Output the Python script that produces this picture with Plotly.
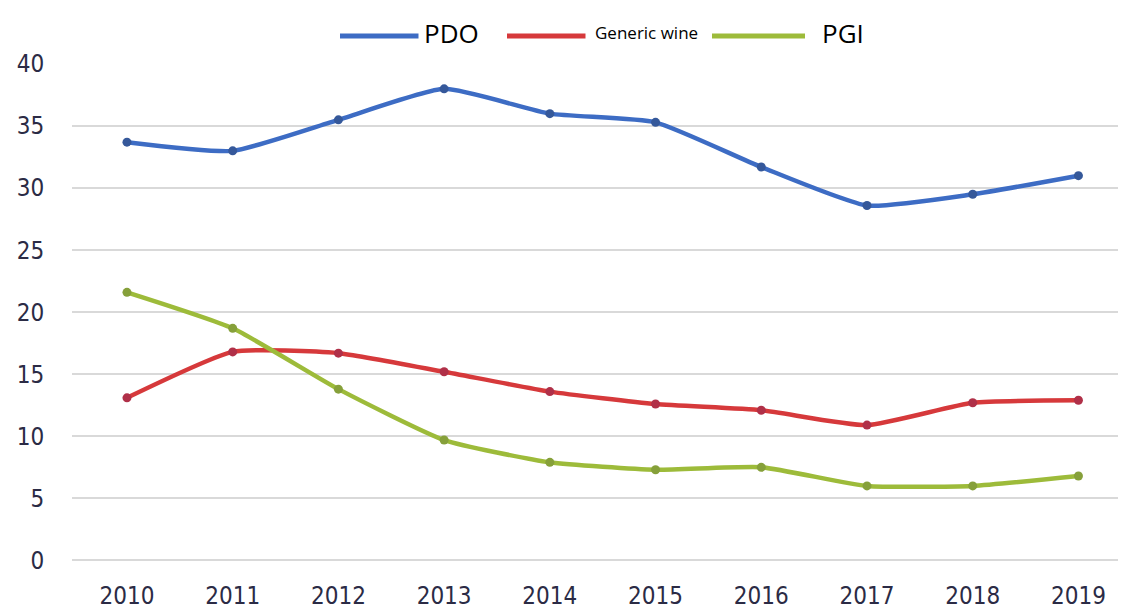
import plotly.graph_objects as go

years = [2010, 2011, 2012, 2013, 2014, 2015, 2016, 2017, 2018, 2019]
pdo = [33.7, 33.0, 35.5, 38.0, 36.0, 35.3, 31.7, 28.6, 29.5, 31.0]
generic_wine = [13.1, 16.8, 16.7, 15.2, 13.6, 12.6, 12.1, 10.9, 12.7, 12.9]
pgi = [21.6, 18.7, 13.8, 9.7, 7.9, 7.3, 7.5, 6.0, 6.0, 6.8]
y_ticks = [0, 5, 10, 15, 20, 25, 30, 35, 40]

series = [
    ("PDO", pdo, "#3d6cc4", "#35589a"),
    ("Generic wine", generic_wine, "#d6393b", "#b03048"),
    ("PGI", pgi, "#9dbb3a", "#86a03a"),
]

fig = go.Figure()
for name, vals, col, mcol in series:
    fig.add_trace(go.Scatter(
        x=years, y=vals, name=name, mode="lines+markers",
        line=dict(color=col, width=4.5, shape="spline", smoothing=0.5),
        marker=dict(color=mcol, size=9, symbol="circle"),
        showlegend=False,
    ))

tick_font = dict(family="DejaVu Sans Condensed, Liberation Sans Narrow, sans-serif",
                 size=24, color="#2b2b45")

# page body has an 8px margin; figure is sized to fit the window
fig.update_layout(
    width=1118, height=607,
    margin=dict(l=64, r=0, t=56, b=54),
    paper_bgcolor="white", plot_bgcolor="white",
    xaxis=dict(range=[2009.48, 2019.45], tickmode="array", tickvals=years,
               ticktext=[str(y) for y in years], showgrid=False, zeroline=False,
               showline=False, tickfont=tick_font, ticks="outside", ticklen=13,
               tickcolor="rgba(0,0,0,0)", automargin=False),
    yaxis=dict(range=[-0.05, 40], tickmode="array", tickvals=y_ticks,
               showgrid=True, gridcolor="#d9d9d9", gridwidth=2, zeroline=True,
               zerolinecolor="#d9d9d9", zerolinewidth=2,
               showline=False, tickfont=tick_font, ticks="outside", ticklen=22,
               tickcolor="rgba(0,0,0,0)", automargin=False),
)

# custom legend (positions in page pixels converted to paper coords)
legend_items = [
    ("PDO", "#3d6cc4", 340, 420, 451, 26, 5),
    ("Generic wine", "#d6393b", 507, 587, 646, 17, 9),
    ("PGI", "#9dbb3a", 712, 805, 843, 26, 5),
]
for name, col, x0, x1, tx, fs, pad in legend_items:
    fig.add_shape(type="line", xref="paper", yref="paper",
                  x0=(x0 - 72) / 1054, x1=(x1 - 72) / 1054,
                  y0=(561 - 36) / 497, y1=(561 - 36) / 497,
                  line=dict(color=col, width=5))
    fig.add_annotation(xref="paper", yref="paper", x=(tx - 72) / 1054,
                       y=(561 - 33) / 497, text=name, showarrow=False,
                       font=dict(family="Open Sans, sans-serif", size=fs, color="black"),
                       bgcolor="white", borderpad=pad,
                       xanchor="center", yanchor="middle")

fig.write_html("out.html")
